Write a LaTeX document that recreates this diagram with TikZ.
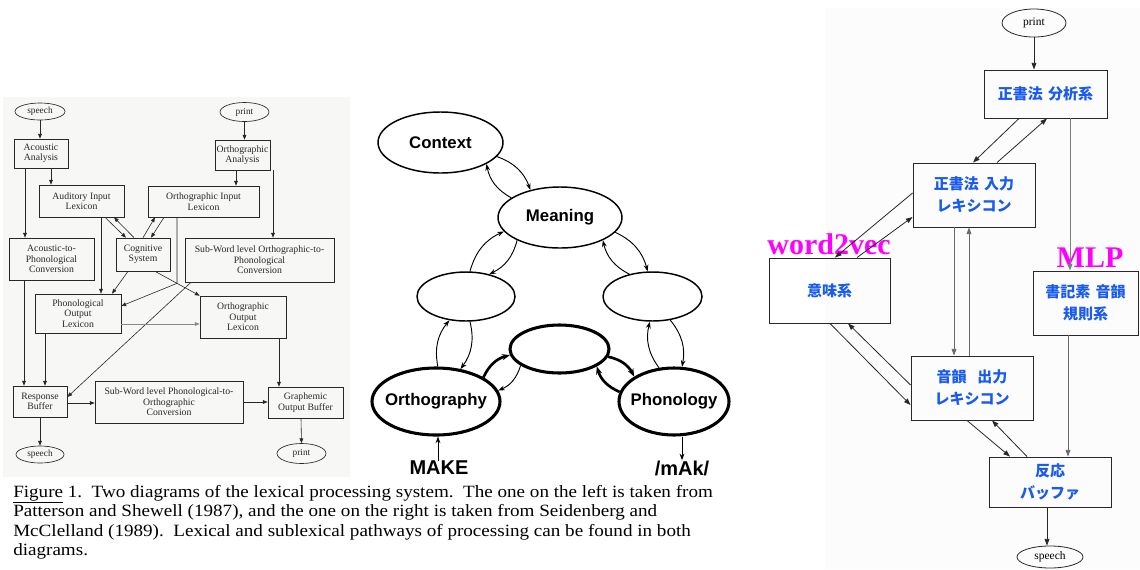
\documentclass[tikz,border=0pt]{standalone}
\usepackage{fontspec}
\newfontfamily\capfont{Liberation Serif}
\newfontfamily\helv{Liberation Sans}
\newfontfamily\jpfont{Noto Sans CJK JP}
\usetikzlibrary{shapes.geometric,arrows.meta}
\definecolor{pbg}{RGB}{247,247,245}
\definecolor{rbg}{RGB}{252,252,252}
\definecolor{jblue}{RGB}{25,90,240}
\definecolor{mag}{RGB}{255,0,255}
\definecolor{ink}{RGB}{40,40,40}
\newcommand{\capstretch}[1]{\scalebox{1.11}[1]{#1}}
\begin{document}
\begin{tikzpicture}[x=0.75pt, y=-0.75pt,
  % a rectangle given by its left, top, right and bottom edges (in px)
  corners/.style args={#1,#2,#3,#4}{rectangle, minimum width={(#3-#1)*0.75pt},
    minimum height={(#4-#2)*0.75pt}, at={({(#1+#3)/2},{(#2+#4)/2})}},
  % left: box-and-arrow model
  pbox/.style={draw=ink, line width=0.5pt, inner sep=0pt, align=center, text=ink,
    font=\capfont\fontsize{7.3}{7.8}\selectfont},
  pell/.style={ellipse, draw=ink, line width=0.5pt, inner sep=0pt, text=ink,
    font=\capfont\fontsize{7}{8}\selectfont},
  parr/.style={draw=ink, line width=0.45pt, -{Triangle[length=3.6pt,width=2.8pt]}},
  % middle: triangle model
  mell/.style={ellipse, draw=black, line width=1.1pt, inner sep=0pt,
    font=\helv\bfseries\fontsize{12.6}{14}\selectfont},
  mthick/.style={mell, line width=2.3pt},
  marr/.style={draw=black, line width=0.7pt, -{Stealth[length=5pt,width=3.6pt]}, bend left=25},
  mbold/.style={draw=black, line width=2pt, -{Stealth[length=6pt,width=4.6pt]}, bend left=25},
  mword/.style={font=\helv\bfseries\fontsize{15}{17}\selectfont, inner sep=0pt},
  % right: annotated box model
  jbox/.style={draw=ink, line width=0.7pt, inner sep=0pt, align=center, text=jblue,
    font=\jpfont\bfseries\fontsize{11.25}{16.5}\selectfont},
  jell/.style={ellipse, draw=ink, line width=0.6pt, inner sep=0pt,
    font=\capfont\fontsize{8.6}{9.6}\selectfont},
  jarr/.style={draw=ink, line width=0.6pt, -{Triangle[length=5pt,width=3.6pt]}},
  tag/.style={text=mag, inner sep=0pt, font=\capfont\bfseries\fontsize{22.5}{24}\selectfont},
  capline/.style={anchor=base west, inner sep=0pt, font=\capfont\fontsize{12.9}{14.5}\selectfont}
]
\useasboundingbox (0,0) rectangle (1140,569);
\fill[white] (0,0) rectangle (1140,569);
\fill[pbg] (3,97) rectangle (350,477);
\fill[rbg] (825,8) rectangle (1140,569);

% ---------------- left model ----------------
\node[pell, minimum width=37.5pt, minimum height=12.75pt] (sp1) at (40,111.5) {speech};
\node[pell, minimum width=36.75pt, minimum height=14.25pt] (pr1) at (244.5,112) {print};
\node[pbox, corners={14,139,68,168}] (aa) {Acoustic\\Analysis};
\node[pbox, corners={215,140,270,170}] (oa) {Orthographic\\Analysis};
\node[pbox, corners={39,185,124,217}] (ail) {Auditory Input\\Lexicon};
\node[pbox, corners={148,186,259,217}] (oil) {Orthographic Input\\Lexicon};
\node[pbox, corners={9,238,94,280}] (apc) {Acoustic-to-\\Phonological\\Conversion};
\node[pbox, corners={116,238,170,271}] (cog) {Cognitive\\System};
\node[pbox, corners={185,238,334,282}] (swop) {Sub-Word level Orthographic-to-\\Phonological\\Conversion};
\node[pbox, corners={35,294,121,333}] (pol) {Phonological\\Output\\Lexicon};
\node[pbox, corners={200,296,286,338}] (ool) {Orthographic\\Output\\Lexicon};
\node[pbox, corners={13,386,67,417}] (rb) {Response\\Buffer};
\node[pbox, corners={95,381,243,423}] (swpo) {Sub-Word level Phonological-to-\\Orthographic\\Conversion};
\node[pbox, corners={268,387,343,418}] (gob) {Graphemic\\Output Buffer};
\node[pell, minimum width=36pt, minimum height=12.75pt] (sp2) at (40,454.5) {speech};
\node[pell, minimum width=36.75pt, minimum height=15pt] (pr2) at (301.5,453.5) {print};

\draw[parr] (sp1.south) -- (sp1.south |- aa.north);
\draw[parr] (pr1.south) -- (pr1.south |- oa.north);
\draw[parr] (aa.south -| 51,0) -- (ail.north -| 51,0);
\draw[parr] (aa.south -| 25,0) -- (apc.north -| 25,0);
\draw[parr] (oa.south -| 236,0) -- (oil.north -| 236,0);
\draw[parr] (oa.south -| 273,0) -- (swop.north -| 273,0);
\draw[parr] (ail.south -| 105,0) -- (cog.north -| 126,0);
\draw[parr] (cog.north -| 134,0) -- (ail.south -| 114,0);
\draw[parr] (cog.north -| 143,0) -- (oil.south -| 155,0);
\draw[parr] (oil.south -| 164,0) -- (cog.north -| 151,0);
\draw[parr] (ail.south -| 101,0) -- (pol.north -| 101,0);
\draw[parr] (cog.south -| 128,0) -- (pol.north -| 112,0);
\draw[parr] (cog.south -| 155,0) -- (ool.north west);
\draw[parr] (oil.south -| 177,0) -- ++(0,66) -- (pol.east |- 0,306);
\draw[parr] (swop.south -| 191,0) -- (rb.east |- 0,397);
\draw[parr, draw=ink!55] (pol.east |- 0,324) -- (ool.west |- 0,324);
\draw[parr] (apc.south -| 24,0) -- (rb.north -| 24,0);
\draw[parr] (pol.south -| 45,0) -- (rb.north -| 45,0);
\draw[parr] (rb.east |- 0,403) -- (swpo.west |- 0,403);
\draw[parr] (swpo.east |- 0,402) -- (gob.west |- 0,402);
\draw[parr] (ool.south -| 279,0) -- (gob.north -| 279,0);
\draw[parr] (rb.south -| 40,0) -- (sp2.north);
\draw[parr] (gob.south -| 301,0) -- (pr2.north);

% ---------------- middle model ----------------
\node[mell, minimum width=93.75pt, minimum height=45.75pt] (ctx) at (440.5,142.5) {\makebox[0pt]{Context}};
\node[mell, minimum width=93pt, minimum height=45.75pt] (mng) at (560,217.5) {\makebox[0pt]{Meaning}};
\node[mell, minimum width=73.5pt, minimum height=36.75pt] (lft) at (466,296.5) {};
\node[mell, minimum width=74.25pt, minimum height=36.75pt] (rgt) at (652.5,296.5) {};
\node[mthick, minimum width=74.25pt, minimum height=36pt] (ctr) at (559.5,349) {};
\node[mthick, minimum width=96pt, minimum height=50.25pt] (ort) at (436,401.5) {\makebox[0pt]{Orthography}};
\node[mthick, minimum width=82.5pt, minimum height=50.25pt] (pho) at (674,401.5) {\makebox[0pt]{Phonology}};
\node[mword] (make) at (439,468) {MAKE};
\node[mword] (mak) at (682,468) {/mAk/};

\draw[marr] (ctx.-14) to (mng.137);
\draw[marr] (mng.158) to (ctx.-25);
\draw[marr] (lft.81) to (mng.194);
\draw[marr] (mng.208) to (lft.44);
\draw[marr] (rgt.136) to (mng.-28);
\draw[marr] (mng.-15) to (rgt.101);
\draw[marr] (ort.87) to (lft.235);
\draw[marr] (lft.-81) to (ort.53);
\draw[marr] (pho.114) to (rgt.264);
\draw[marr] (rgt.-53) to (pho.77);
\draw[mbold] (ort.27) to (ctr.187);
\draw[marr] (ctr.203) to (ort.10);
\draw[mbold] (ctr.-9) to (pho.148);
\draw[mbold] (pho.170) to (ctr.-25);
\draw[marr, bend left=0] (make.north -| 438,0) -- (ort.south -| 438,0);
\draw[marr, bend left=0] (pho.south -| 682,0) -- (mak.north -| 682,0);

% ---------------- right model ----------------
\node[jell, minimum width=48pt, minimum height=21pt] (rpr) at (1034,23) {print};
\node[jbox, corners={984,70,1107,118}] (ana) {正書法\hspace{4pt}分析系};
\node[jbox, corners={913,163,1035,227}] (inl) {正書法\hspace{4pt}入力\\レキシコン};
\node[jbox, corners={769,258,890,323}] (sem) {意味系};
\node[jbox, corners={1033,271,1138,335}] (gpc) {書記素\hspace{4pt}音韻\\規則系};
\node[jbox, corners={911,356,1033,420}] (outl) {音韻\hspace{8pt}出力\\レキシコン};
\node[jbox, corners={989,457,1111,507}] (resp) {反応\\バッファ};
\node[jell, minimum width=49.5pt, minimum height=16.5pt] (rsp) at (1050,557) {speech};
\node[tag, anchor=base] (w2v) at (829,254) {word2vec};
\node[tag, anchor=base] (mlp) at (1090,267) {MLP};

\draw[jarr] (rpr.south) -- (rpr.south |- ana.north);
\draw[jarr] (ana.south -| 1019,0) -- (inl.north -| 973,0);
\draw[jarr] (inl.north -| 997,0) -- (ana.south -| 1047,0);
\draw[jarr, draw=ink!60] (ana.south -| 1070,0) -- (gpc.north -| 1070,0);
\draw[jarr] (inl.west |- 0,193) -- (sem.north -| 835,0);
\draw[jarr] (sem.north -| 857,0) -- (inl.west |- 0,217);
\draw[jarr, draw=ink!70] (inl.south -| 954,0) -- (outl.north -| 954,0);
\draw[jarr, draw=ink!70] (outl.north -| 969,0) -- (inl.south -| 969,0);
\draw[jarr] (sem.south -| 830,0) -- (outl.west |- 0,405);
\draw[jarr] (outl.west |- 0,385) -- (sem.south -| 848,0);
\draw[jarr] (outl.south -| 967,0) -- (resp.north -| 1010,0);
\draw[jarr] (resp.north -| 1027,0) -- (outl.south -| 992,0);
\draw[jarr, draw=ink!70] (gpc.south -| 1068,0) -- (resp.north -| 1068,0);
\draw[jarr] (resp.south -| 1047,0) -- (rsp.north -| 1047,0);

% ---------------- caption ----------------
\node[capline] (cap1) at (13,497) {\capstretch{\underline{Figure} 1.\ \ Two diagrams of the lexical processing system.\ \ The one on the left is taken from}};
\node[capline] (cap2) at (13,516.5) {\capstretch{Patterson and Shewell (1987), and the one on the right is taken from Seidenberg and}};
\node[capline] (cap3) at (13,536) {\capstretch{McClelland (1989).\ \ Lexical and sublexical pathways of processing can be found in both}};
\node[capline] (cap4) at (13,555.5) {\capstretch{diagrams.}};
\end{tikzpicture}
\end{document}
